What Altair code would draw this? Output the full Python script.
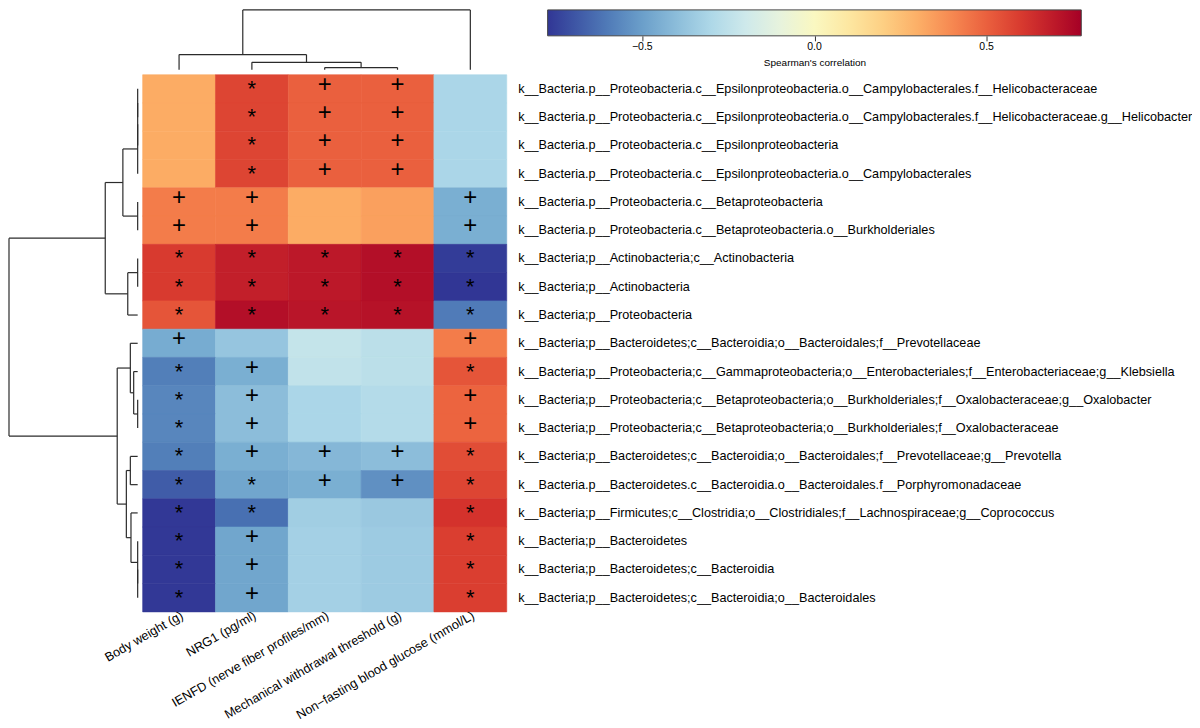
import altair as alt
import pandas as pd

col_labels = [
    "Body weight (g)",
    "NRG1 (pg/ml)",
    "IENFD (nerve fiber profiles/mm)",
    "Mechanical withdrawal threshold (g)",
    "Non\u2212fasting blood glucose (mmol/L)",
]

row_labels = [
    "k__Bacteria.p__Proteobacteria.c__Epsilonproteobacteria.o__Campylobacterales.f__Helicobacteraceae",
    "k__Bacteria.p__Proteobacteria.c__Epsilonproteobacteria.o__Campylobacterales.f__Helicobacteraceae.g__Helicobacter",
    "k__Bacteria.p__Proteobacteria.c__Epsilonproteobacteria",
    "k__Bacteria.p__Proteobacteria.c__Epsilonproteobacteria.o__Campylobacterales",
    "k__Bacteria.p__Proteobacteria.c__Betaproteobacteria",
    "k__Bacteria.p__Proteobacteria.c__Betaproteobacteria.o__Burkholderiales",
    "k__Bacteria;p__Actinobacteria;c__Actinobacteria",
    "k__Bacteria;p__Actinobacteria",
    "k__Bacteria;p__Proteobacteria",
    "k__Bacteria;p__Bacteroidetes;c__Bacteroidia;o__Bacteroidales;f__Prevotellaceae",
    "k__Bacteria;p__Proteobacteria;c__Gammaproteobacteria;o__Enterobacteriales;f__Enterobacteriaceae;g__Klebsiella",
    "k__Bacteria;p__Proteobacteria;c__Betaproteobacteria;o__Burkholderiales;f__Oxalobacteraceae;g__Oxalobacter",
    "k__Bacteria;p__Proteobacteria;c__Betaproteobacteria;o__Burkholderiales;f__Oxalobacteraceae",
    "k__Bacteria;p__Bacteroidetes;c__Bacteroidia;o__Bacteroidales;f__Prevotellaceae;g__Prevotella",
    "k__Bacteria.p__Bacteroidetes.c__Bacteroidia.o__Bacteroidales.f__Porphyromonadaceae",
    "k__Bacteria;p__Firmicutes;c__Clostridia;o__Clostridiales;f__Lachnospiraceae;g__Coprococcus",
    "k__Bacteria;p__Bacteroidetes",
    "k__Bacteria;p__Bacteroidetes;c__Bacteroidia",
    "k__Bacteria;p__Bacteroidetes;c__Bacteroidia;o__Bacteroidales",
]

# Spearman correlation per row (columns in col_labels order)
values = [
    [0.31, 0.57, 0.50, 0.50, -0.31],
    [0.31, 0.57, 0.50, 0.50, -0.31],
    [0.31, 0.57, 0.50, 0.50, -0.31],
    [0.31, 0.57, 0.50, 0.50, -0.31],
    [0.43, 0.43, 0.31, 0.34, -0.45],
    [0.43, 0.43, 0.31, 0.34, -0.45],
    [0.60, 0.68, 0.70, 0.73, -0.76],
    [0.60, 0.68, 0.70, 0.73, -0.775],
    [0.53, 0.73, 0.71, 0.72, -0.60],
    [-0.46, -0.37, -0.23, -0.26, 0.43],
    [-0.59, -0.45, -0.24, -0.26, 0.53],
    [-0.57, -0.40, -0.31, -0.28, 0.49],
    [-0.57, -0.40, -0.31, -0.28, 0.49],
    [-0.59, -0.45, -0.42, -0.40, 0.55],
    [-0.68, -0.48, -0.45, -0.54, 0.57],
    [-0.77, -0.63, -0.34, -0.36, 0.62],
    [-0.77, -0.48, -0.33, -0.35, 0.59],
    [-0.77, -0.48, -0.33, -0.35, 0.59],
    [-0.77, -0.48, -0.33, -0.35, 0.59],
]

signs = [
    ["", "*", "+", "+", ""],
    ["", "*", "+", "+", ""],
    ["", "*", "+", "+", ""],
    ["", "*", "+", "+", ""],
    ["+", "+", "", "", "+"],
    ["+", "+", "", "", "+"],
    ["*", "*", "*", "*", "*"],
    ["*", "*", "*", "*", "*"],
    ["*", "*", "*", "*", "*"],
    ["+", "", "", "", "+"],
    ["*", "+", "", "", "*"],
    ["*", "+", "", "", "+"],
    ["*", "+", "", "", "+"],
    ["*", "+", "+", "+", "*"],
    ["*", "*", "+", "+", "*"],
    ["*", "*", "", "", "*"],
    ["*", "+", "", "", "*"],
    ["*", "+", "", "", "*"],
    ["*", "+", "", "", "*"],
]

# colour-bar ticks
bar_domain = [-0.775, 0.775]
bar_ticks = [-0.5, 0, 0.5]

# dendrograms: [left, right, merge height] (leaves = row/column index)
col_tree = [[0, [1, [2, 3, 0.037], 0.124], 0.253], 4, 1.0]
row_tree = [
    [
        [[[[0, 1, 0.0], 2, 0.0], 3, 0.0], [4, 5, 0.0], 0.115],
        [[6, 7, 0.0], 8, 0.077],
        0.252,
    ],
    [
        [9, [10, [11, 12, 0.0], 0.031], 0.057],
        [[13, 14, 0.057], [15, [16, [17, 18, 0.0], 0.0], 0.052], 0.088],
        0.159,
    ],
    1.0,
]

FONT = "Liberation Sans"
LINE = "#2b2b2b"


def dendro_segments(tree):
    segs = []

    def walk(node):
        if isinstance(node, int):
            return node + 0.5, 0.0
        left, right, h = node
        pl, hl = walk(left)
        pr, hr = walk(right)
        segs.append(dict(p=pl, p2=pl, h=hl, h2=h))
        segs.append(dict(p=pr, p2=pr, h=hr, h2=h))
        segs.append(dict(p=pl, p2=pr, h=h, h2=h))
        return (pl + pr) / 2, h

    walk(tree)
    return pd.DataFrame(segs)


records = []
for i, r in enumerate(row_labels):
    for j, c in enumerate(col_labels):
        records.append(dict(row=r, col=c, value=values[i][j], sign=signs[i][j]))
df = pd.DataFrame(records)

HM_W, HM_H = 365, 538.5
RD_W, CD_H = 129, 60
BAR_LEN, BAR_H = 535, 26

xenc = alt.X(
    "col:N",
    sort=col_labels,
    scale=alt.Scale(paddingInner=0, paddingOuter=0),
    axis=alt.Axis(
        title=None, ticks=False, domain=False, labelAngle=330, labelAlign="right",
        labelBaseline="top", labelPadding=-3, labelOffset=0, labelFontSize=12.7,
        labelColor="black", labelFont=FONT, labelLimit=1000,
    ),
)
yenc = alt.Y(
    "row:N",
    sort=row_labels,
    scale=alt.Scale(paddingInner=0, paddingOuter=0),
    axis=alt.Axis(
        title=None, orient="right", ticks=False, domain=False, labelPadding=11,
        labelFontSize=12.7, labelColor="black", labelFont=FONT, labelLimit=1000,
    ),
)

cscale = alt.Scale(scheme="redyellowblue", reverse=True, domain=bar_domain, nice=False)

rects = alt.Chart(df).transform_calculate(edge="datum.value").mark_rect(strokeWidth=0.6).encode(
    x=xenc,
    y=yenc,
    color=alt.Color(
        "value:Q",
        scale=cscale,
        legend=alt.Legend(
            type="gradient", orient="none", legendX=540, legendY=0, direction="horizontal",
            gradientLength=BAR_LEN, gradientThickness=BAR_H, gradientStrokeColor="#444",
            gradientStrokeWidth=1, values=bar_ticks, title="Spearman's correlation",
            titleOrient="bottom", titleAnchor="middle", titleFontSize=10,
            titleFontWeight="normal", titleFont=FONT, titleColor="black", titlePadding=5,
            labelFontSize=10.5, labelFont=FONT, labelColor="black", labelOffset=6, padding=0,
        ),
    ),
    stroke=alt.Stroke(
        "edge:Q",
        scale=alt.Scale(scheme="redyellowblue", reverse=True, domain=bar_domain, nice=False),
        legend=None,
    ),
)

plus = alt.Chart(df).transform_filter(alt.datum.sign == "+").mark_text(
    fontSize=24, font=FONT, color="black", baseline="middle", dy=-4
).encode(x=xenc, y=yenc, text="sign:N")
star = alt.Chart(df).transform_filter(alt.datum.sign == "*").mark_text(
    fontSize=22, font=FONT, color="black", baseline="middle", dy=0
).encode(x=xenc, y=yenc, text="sign:N")

heat = alt.layer(rects, plus, star).properties(width=HM_W, height=HM_H)

row_dendro = alt.Chart(dendro_segments(row_tree)).mark_rule(color=LINE, strokeWidth=1.2).encode(
    x=alt.X("h:Q", scale=alt.Scale(domain=[0, 1], reverse=True, nice=False, zero=False), axis=None),
    x2="h2:Q",
    y=alt.Y("p:Q", scale=alt.Scale(domain=[0, len(row_labels)], reverse=True, nice=False, zero=False), axis=None),
    y2="p2:Q",
).properties(width=RD_W, height=HM_H)

col_dendro = alt.Chart(dendro_segments(col_tree)).mark_rule(color=LINE, strokeWidth=1.2).encode(
    x=alt.X("p:Q", scale=alt.Scale(domain=[0, len(col_labels)], nice=False, zero=False), axis=None),
    x2="p2:Q",
    y=alt.Y("h:Q", scale=alt.Scale(domain=[0, 1], nice=False, zero=False), axis=None),
    y2="h2:Q",
).properties(width=HM_W, height=CD_H)

spacer = alt.Chart(pd.DataFrame({"v": [0]})).mark_point(opacity=0).encode(
    x=alt.X("v:Q", axis=None), y=alt.Y("v:Q", axis=None)
).properties(width=RD_W, height=CD_H)

bar_tick_chart = alt.Chart(pd.DataFrame({"v": bar_ticks})).mark_point(opacity=0).encode(
    x=alt.X(
        "v:Q",
        scale=alt.Scale(domain=bar_domain, nice=False, zero=False),
        axis=alt.Axis(values=bar_ticks, labels=False, domain=False, ticks=True, tickSize=5,
                      tickColor="#333", tickWidth=1, title=None, grid=False, orient="bottom"),
    )
).properties(width=BAR_LEN, height=BAR_H)

top_left = alt.hconcat(spacer, col_dendro, spacing=5, bounds="flush")
top = alt.hconcat(top_left, bar_tick_chart, spacing=41)
bottom = alt.hconcat(row_dendro, heat, spacing=5, bounds="flush")

chart = alt.vconcat(top, bottom, spacing=2).properties(padding=0).resolve_scale(
    stroke="independent"
).resolve_legend(stroke="independent").configure(font=FONT).configure_view(stroke=None)

chart.save("out.html", embed_options={"renderer": "svg", "actions": False})
